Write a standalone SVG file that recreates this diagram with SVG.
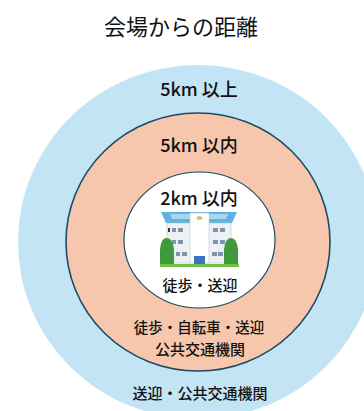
<svg xmlns="http://www.w3.org/2000/svg" width="364" height="411" viewBox="0 0 364 411">
  <style>
    .jp { font-family: "Noto Sans CJK JP", "Noto Sans", sans-serif; fill: #111111; text-anchor: middle; font-weight: 500; }
    .title { font-family: "Noto Sans CJK JP", "Noto Sans", sans-serif; fill: #111111; text-anchor: middle; font-size: 22px; font-weight: 400; }
    .km { font-family: "Noto Sans CJK JP", "Noto Sans", sans-serif; fill: #111111; text-anchor: middle; font-size: 18px; font-weight: 500; }
    .ring { stroke: #1d4a63; stroke-width: 1.6; }
  </style>
  <rect width="364" height="411" fill="#ffffff"/>

  <text class="title" x="181" y="35">会場からの距離</text>

  <!-- outer zone: beyond 5 km -->
  <g id="zone-outer">
    <ellipse cx="198" cy="242" rx="180" ry="177" fill="#c3e4f4"/>
    <text class="km" x="199" y="96">5km 以上</text>
    <text class="jp" x="200" y="399" font-size="15">送迎・公共交通機関</text>
  </g>

  <!-- middle zone: within 5 km -->
  <g id="zone-middle">
    <ellipse class="ring" cx="198" cy="242" rx="132" ry="129" fill="#f6c7ad"/>
    <text class="km" x="199" y="152">5km 以内</text>
    <text class="jp" x="199" y="333" font-size="14.5">徒歩・自転車・送迎</text>
    <text class="jp" x="200" y="355" font-size="15">公共交通機関</text>
  </g>

  <!-- inner zone: within 2 km -->
  <g id="zone-inner">
    <ellipse cx="199.5" cy="240" rx="75.5" ry="68" fill="#ffffff" stroke="#1d4a63" stroke-width="1.2"/>
    <text class="km" x="199" y="205">2km 以内</text>
    <text class="jp" x="200" y="291" font-size="15">徒歩・送迎</text>
  </g>

  <!-- school building icon -->
  <g id="building">
    <!-- roof -->
    <path d="M161 212 L237 212 L232 223 L166 223 Z" fill="#5fb3e0"/>
    <path d="M170 214 L228 214 L226 219 L172 219 Z" fill="#a9d7ef"/>
    <!-- wings -->
    <rect x="167" y="223" width="64" height="40" fill="#eef1f4" stroke="#b8c3cc" stroke-width="0.6"/>
    <!-- windows -->
    <g fill="#7d93b0">
      <rect x="172" y="228" width="4" height="4"/><rect x="178" y="228" width="5" height="4"/>
      <rect x="172" y="240" width="4" height="4"/><rect x="178" y="240" width="5" height="4"/>
      <rect x="176" y="252" width="4" height="4"/><rect x="182" y="252" width="5" height="4"/>
      <rect x="213" y="228" width="5" height="4"/><rect x="220" y="228" width="5" height="4"/>
      <rect x="213" y="240" width="5" height="4"/><rect x="220" y="240" width="5" height="4"/>
      <rect x="212" y="252" width="5" height="4"/><rect x="218" y="252" width="5" height="4"/>
    </g>
    <rect x="168" y="228" width="2" height="4" fill="#333333"/>
    <!-- central tower -->
    <rect x="190" y="213" width="19" height="50" fill="#ffffff" stroke="#c2ccd4" stroke-width="0.6"/>
    <ellipse cx="199.5" cy="218" rx="3" ry="2" fill="#d9c27a"/>
    <rect x="194" y="256" width="11" height="8" fill="#3d74c4"/>
    <!-- trees -->
    <path d="M160 266 L160 250 Q161 237 167 238 Q173 238 174 250 L174 266 Z" fill="#3f9a3c"/>
    <path d="M224 266 L224 250 Q225 238 231 238 Q237 238 238 250 L238 266 Z" fill="#3f9a3c"/>
    <rect x="160" y="264" width="79" height="3" fill="#6fbf4a"/>
  </g>
</svg>
